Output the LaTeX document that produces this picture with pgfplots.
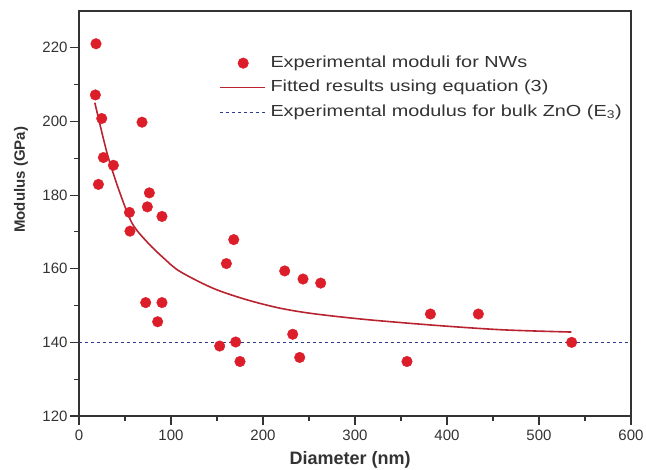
\documentclass[border=0pt]{standalone}
\usepackage{pgfplots}
\pgfplotsset{compat=1.18}
\usepackage{fontspec}
\setmainfont{Liberation Sans}
\newfontfamily\legfont[FakeStretch=1.24]{Liberation Sans}
\definecolor{markred}{HTML}{DC1E2B}
\definecolor{fitred}{HTML}{B8232F}
\definecolor{bulkblue}{HTML}{2B3C8E}
\definecolor{axgray}{HTML}{333333}
\pgfplotsset{
  longline legend/.style={legend image code/.code={\draw[##1] (0pt,0pt) -- (45pt,0pt);}},
  dot legend/.style={legend image code/.code={\draw[mark repeat=2, mark phase=2, ##1, draw=none] plot coordinates {(0pt,0pt) (23pt,0pt) (45pt,0pt)};}},
}
\begin{document}
\begin{tikzpicture}
\begin{axis}[
  at={(0pt,0pt)}, anchor=south west,
  scale only axis, width=552pt, height=405pt,
  xmin=0, xmax=600, ymin=120, ymax=230,
  xtick={0,100,...,600}, ytick={120,140,...,220},
  minor xtick={50,150,...,550}, minor ytick={130,150,...,210},
  tick align=outside, xtick pos=bottom, ytick pos=left,
  major tick length=9pt, minor tick length=5pt,
  axis line style={axgray, line width=1.4pt},
  every tick/.style={axgray, line width=1.1pt},
  /pgf/number format/assume math mode=true,
  ticklabel style={font=\fontsize{15}{18}\selectfont, text=axgray},
  xticklabel style={yshift=-1pt},
  yticklabel style={xshift=1pt},
  xlabel={\textbf{Diameter (nm)}},
  ylabel={\textbf{Modulus (GPa)}},
  every axis x label/.style={at={(axis description cs:0.491,-0.109)}, anchor=center, font=\fontsize{18}{20}\selectfont, text=axgray},
  every axis y label/.style={at={(axis description cs:-0.105,0.583)}, anchor=center, rotate=90, font=\fontsize{15}{18}\selectfont, text=axgray},
  legend style={at={(axis description cs:0.254,0.897)}, anchor=north west, draw=none, fill=none,
    font=\legfont\fontsize{16}{19}\selectfont, text=axgray, inner sep=0pt, row sep=4pt,
    nodes={inner sep=1.5pt, text height=13pt, text depth=4.5pt},
    /tikz/every odd column/.append style={column sep=3pt}},
  legend cell align=left,
]
\addplot[only marks, mark=*, mark size=5.3pt, mark options={fill=markred, draw=markred}, dot legend]
  coordinates {
  (18.5,221.1) (17.8,207.2) (24.7,200.8) (26.5,190.2) (21.1,182.9) (37.4,188.1)
  (68.5,199.8) (76.5,180.6) (74.3,176.8) (90.2,174.2) (54.8,175.3) (55.4,170.2)
  (168.2,167.9) (160.2,161.4) (72.5,150.8) (90.2,150.8) (85.5,145.6)
  (152.9,139.0) (170.3,140.1) (175.0,134.8) (223.6,159.4) (243.5,157.2)
  (262.7,156.1) (232.3,142.2) (239.9,135.9) (356.5,134.8) (382.0,147.7)
  (434.1,147.7) (535.5,140.0)
  };
\addlegendentry{Experimental moduli for NWs}
\addplot[fitred, line width=1.6pt, smooth, no marks, longline legend]
  coordinates {
  (17.2,205.1) (30.4,191.5) (43.2,181.5) (57.6,172.4) (75,167.0) (92,162.9)
  (109.4,159.3) (145.6,154.7) (181.9,151.6) (218.2,149.3) (254.3,147.8)
  (312,146.2) (388.5,144.6) (461,143.4) (535.2,142.8)
  };
\addlegendentry{Fitted results using equation (3)}
\addplot[bulkblue, line width=1.1pt, dash pattern=on 3pt off 3pt, no marks, longline legend]
  coordinates {(0,140) (600,140)};
\addlegendentry{Experimental modulus for bulk ZnO (E\textsubscript{3})}
\end{axis}
\pgfresetboundingbox
\path (-79pt,-54pt) rectangle (567pt,416pt);
\end{tikzpicture}
\end{document}
